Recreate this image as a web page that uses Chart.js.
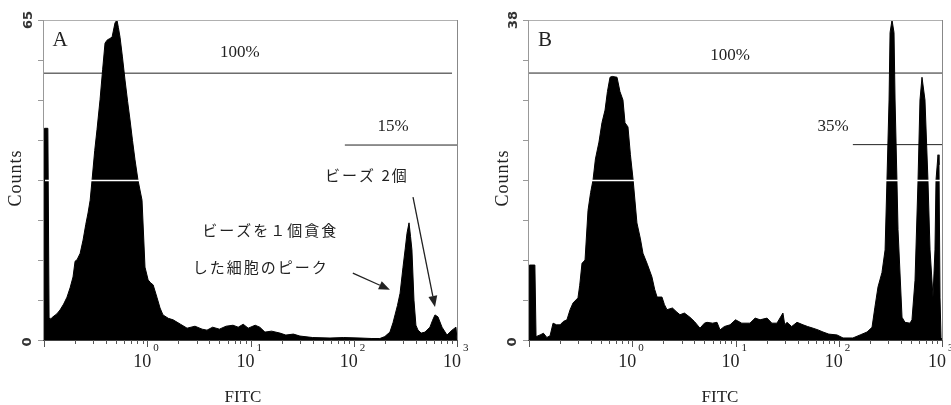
<!DOCTYPE html>
<html>
<head>
<meta charset="utf-8">
<title>FITC histograms</title>
<script src="https://cdn.jsdelivr.net/npm/chart.js@4.4.1/dist/chart.umd.min.js"></script>
<style>
  body { margin: 0; background: #fff; }
  .panel { position: absolute; top: 0; height: 405px; }
</style>
</head>
<body>
<div class="panel" style="left:0;width:476px"><canvas id="chartA" width="476" height="405"></canvas></div>
<div class="panel" style="left:476px;width:475px"><canvas id="chartB" width="475" height="405"></canvas></div>
<script>
// x tick labels (10^n)
const xTickValues = [1, 10, 100, 1000];
const xTickExponents = ['0', '1', '2', '3'];

// panel A
const aFitc = [
  0.1, 0.101, 0.109, 0.112, 0.114, 0.122, 0.133, 0.143, 0.155, 0.167,
  0.179, 0.191, 0.200, 0.209, 0.224, 0.239, 0.254, 0.267, 0.280, 0.292,
  0.310, 0.326, 0.349, 0.370, 0.390, 0.408, 0.430, 0.456, 0.487, 0.509,
  0.525, 0.545, 0.575, 0.609, 0.645, 0.681, 0.720, 0.761, 0.813, 0.890,
  0.951, 1.02, 1.08, 1.14, 1.24, 1.33, 1.42, 1.60, 1.78, 2.1,
  2.43, 2.9, 3.4, 3.79, 4.3, 5.0, 5.8, 6.77, 7.6, 8.5,
  9.5, 11.1, 12.3, 13.8, 16.0, 19.3, 22, 26, 30.1, 40,
  58.9, 80, 115, 150, 179, 200, 224, 240, 251, 265,
  281, 300, 315, 328, 343, 355, 366, 383, 400, 419,
  450, 490, 547, 580, 612, 654, 716, 800, 895, 977,
  1000
];
const aCounts = [
  0, 43, 43, 4.5, 4.1, 4.7, 5.3, 6.1, 7.3, 8.7,
  10.6, 12.8, 16.0, 16.3, 17.6, 20.3, 23.5, 25.8, 28.4, 32.5,
  38.5, 42.7, 48.8, 55.0, 60.3, 60.9, 61.2, 61.5, 64.4, 65,
  63.5, 61.5, 57.5, 52.8, 48.5, 44.7, 40.5, 36.6, 32.5, 28.4,
  14.8, 12.2, 11.6, 11.2, 8.7, 6.5, 5.1, 4.4, 4.1, 3.2,
  2.4, 2.8, 2.2, 2.0, 2.6, 2.2, 2.8, 3.0, 2.6, 3.2,
  2.4, 3.0, 2.6, 1.6, 1.8, 1.4, 1.0, 1.2, 0.8, 0.5,
  0.4, 0.5, 0.4, 0.3, 0.3, 0.7, 1.6, 3.5, 5.1, 7.0,
  9.5, 14.8, 18.5, 21.7, 23.8, 21.0, 18.3, 8.1, 3.0, 2.0,
  1.4, 1.6, 2.6, 4.0, 5.1, 4.7, 2.6, 1.0, 2.0, 2.6,
  0
];
const aYMax = 65;
const aGateLabels = ['100%', '15%'];
const aGateFrom = [0.1, 82];
const aGateTo = [895, 1000];
const aGateLevel = [54.2, 39.6];

// panel B
const bFitc = [
  0.1, 0.101, 0.114, 0.117, 0.128, 0.138, 0.149, 0.160, 0.171, 0.185,
  0.200, 0.215, 0.233, 0.250, 0.267, 0.298, 0.310, 0.326, 0.349, 0.373,
  0.395, 0.417, 0.440, 0.476, 0.509, 0.545, 0.575, 0.609, 0.640, 0.712,
  0.760, 0.813, 0.851, 0.909, 0.960, 1.02, 1.11, 1.20, 1.27, 1.40,
  1.55, 1.65, 1.74, 1.94, 2.05, 2.17, 2.45, 2.71, 2.90, 3.20,
  3.62, 4.0, 4.53, 5.0, 5.30, 6.0, 6.62, 7.08, 7.8, 8.85,
  10, 11.5, 13.8, 15.5, 17.3, 20.2, 22.5, 25.2, 28.8, 30,
  31.5, 35, 39.4, 45.1, 50, 56.4, 63, 70.4, 80, 96.2,
  110, 137, 161, 188, 210, 224, 240, 262, 281, 293,
  307, 314, 328, 343, 351, 366, 375, 410, 438, 490,
  512, 548, 586, 612, 640, 684, 731, 766, 818, 855,
  875, 915, 935, 957, 978, 1000
];
const bCounts = [
  0, 8.9, 8.9, 0.4, 0.6, 0.8, 0.3, 0.5, 2.0, 1.8,
  1.8, 2.2, 2.4, 3.6, 4.4, 5.0, 6.5, 9.1, 9.5, 15.4,
  17.5, 19.0, 21.5, 23.5, 25.8, 27.3, 29.5, 31.2, 31.3, 31.2,
  29.5, 28.5, 25.8, 25.3, 22.0, 19.0, 13.9, 12.0, 10.3, 9.0,
  7.5, 6.0, 5.1, 5.1, 4.2, 3.6, 3.8, 3.3, 3.0, 3.2,
  2.7, 2.2, 1.4, 2.0, 2.1, 2.0, 2.1, 1.2, 1.6, 1.8,
  2.4, 2.0, 2.0, 2.6, 2.4, 2.6, 2.0, 2.0, 3.2, 1.8,
  2.1, 1.6, 2.1, 1.8, 1.6, 1.4, 1.2, 0.95, 0.7, 0.6,
  0.24, 0.24, 0.6, 0.95, 1.5, 3.9, 6.3, 8.0, 10.7, 19.0,
  28.5, 36.5, 38, 36.5, 28.5, 19, 13.1, 2.7, 2.1, 2.0,
  2.4, 7.1, 19, 28.5, 31.2, 28.5, 19, 10.7, 5.1, 10.7,
  19, 22, 20.8, 5, 0.3, 0
];
const bYMax = 38;
const bGateLabels = ['100%', '35%'];
const bGateFrom = [0.1, 137];
const bGateTo = [1000, 1000];
const bGateLevel = [31.7, 23.2];

const serif = '"Liberation Serif", "DejaVu Serif", serif';
const cjk = '"Noto Sans CJK JP", "Noto Sans", sans-serif';

function rotText(ctx, text, cx, cy) {
  ctx.save();
  ctx.translate(cx, cy);
  ctx.rotate(-Math.PI / 2);
  ctx.textAlign = 'center';
  ctx.textBaseline = 'middle';
  ctx.fillText(text, 0, 0);
  ctx.restore();
}

function arrow(ctx, x1, y1, x2, y2) {
  const ang = Math.atan2(y2 - y1, x2 - x1);
  const hl = 11, hw = 4.5;
  const bx = x2 - hl * Math.cos(ang), by = y2 - hl * Math.sin(ang);
  ctx.beginPath();
  ctx.moveTo(x1, y1);
  ctx.lineTo(bx, by);
  ctx.stroke();
  ctx.beginPath();
  ctx.moveTo(x2, y2);
  ctx.lineTo(bx + hw * Math.sin(ang), by - hw * Math.cos(ang));
  ctx.lineTo(bx - hw * Math.sin(ang), by + hw * Math.cos(ang));
  ctx.closePath();
  ctx.fill();
}

// draws frame, ticks, texts on top of the datasets
function panelPlugin(p) {
  return {
    id: 'panel' + p.letter,
    afterDatasetsDraw(chart) {
      const { ctx, chartArea: a, scales: { x, y } } = chart;
      ctx.save();

      // white line at half height (as in the scan)
      const yMid = Math.round(y.getPixelForValue(p.yMax / 2)) + 0.5;
      ctx.strokeStyle = '#fff';
      ctx.lineWidth = 1.5;
      ctx.beginPath(); ctx.moveTo(a.left + 1, yMid); ctx.lineTo(a.right - 1, yMid); ctx.stroke();

      // frame
      ctx.lineWidth = 1;
      ctx.strokeStyle = '#b0b0b0';
      ctx.beginPath(); ctx.moveTo(a.left, a.top + 0.5); ctx.lineTo(a.right, a.top + 0.5); ctx.stroke();
      ctx.strokeStyle = '#888';
      ctx.beginPath(); ctx.moveTo(a.right + 0.5, a.top); ctx.lineTo(a.right + 0.5, a.bottom); ctx.stroke();
      ctx.strokeStyle = '#999';
      ctx.beginPath(); ctx.moveTo(a.left - 0.5, a.top); ctx.lineTo(a.left - 0.5, a.bottom); ctx.stroke();
      ctx.strokeStyle = '#444';
      ctx.beginPath(); ctx.moveTo(a.left - 1, a.bottom + 0.5); ctx.lineTo(a.right + 1, a.bottom + 0.5); ctx.stroke();

      // y ticks
      ctx.strokeStyle = '#999';
      for (let i = 0; i <= 8; i++) {
        const py = Math.round(y.getPixelForValue(p.yMax * i / 8)) + 0.5;
        ctx.beginPath(); ctx.moveTo(a.left - 6, py); ctx.lineTo(a.left - 1, py); ctx.stroke();
      }
      // x ticks
      ctx.strokeStyle = '#555';
      for (let k = -1; k <= 3; k++) {
        for (let m = 1; m <= 9; m++) {
          const v = m * Math.pow(10, k);
          if (v > 1000) break;
          const px = Math.round(x.getPixelForValue(v)) + 0.5;
          const len = m === 1 ? 7 : 4;
          ctx.beginPath(); ctx.moveTo(px, a.bottom); ctx.lineTo(px, a.bottom + len); ctx.stroke();
        }
      }

      // x tick labels
      ctx.fillStyle = '#222';
      ctx.textBaseline = 'alphabetic';
      xTickValues.forEach((v, i) => {
        const px = x.getPixelForValue(v);
        ctx.font = '18px ' + serif;
        ctx.textAlign = 'right';
        ctx.fillText('10', px + 4, a.bottom + 27);
        ctx.font = '11px ' + serif;
        ctx.textAlign = 'left';
        ctx.fillText(xTickExponents[i], px + 6, a.bottom + 11);
      });

      // y end labels (rotated)
      ctx.font = 'bold 13px "DejaVu Sans", sans-serif';
      ctx.fillStyle = '#333';
      rotText(ctx, String(p.yMax), a.left - 15, a.top);
      rotText(ctx, '0', a.left - 16, a.bottom + 2);

      // axis titles
      ctx.fillStyle = '#222';
      ctx.font = '17px ' + serif;
      ctx.textAlign = 'center';
      ctx.fillText('FITC', p.fitcX, 402);
      ctx.font = '18px ' + serif;
      ctx.letterSpacing = '1px';
      rotText(ctx, 'Counts', p.countsX, 178);
      ctx.letterSpacing = '0px';

      // panel letter
      ctx.font = '21px ' + serif;
      ctx.textAlign = 'center';
      ctx.textBaseline = 'middle';
      ctx.fillText(p.letter, a.left + 16, a.top + 20);

      // gate labels
      ctx.font = '17px ' + serif;
      p.gateText.forEach(g => {
        ctx.fillText(g.text, x.getPixelForValue(g.x), y.getPixelForValue(g.y));
      });

      // annotations
      ctx.font = '15px ' + cjk;
      ctx.letterSpacing = '2px';
      (p.notes || []).forEach(n => {
        ctx.fillText(n.text, x.getPixelForValue(n.x), y.getPixelForValue(n.y));
      });
      ctx.letterSpacing = '0px';
      ctx.strokeStyle = '#222';
      ctx.fillStyle = '#222';
      ctx.lineWidth = 1.3;
      (p.arrows || []).forEach(r => {
        arrow(ctx, x.getPixelForValue(r[0]), y.getPixelForValue(r[1]),
                   x.getPixelForValue(r[2]), y.getPixelForValue(r[3]));
      });
      ctx.restore();
    }
  };
}

function makeChart(id, fitc, counts, yMax, gateFrom, gateTo, gateLevel, pad, panel) {
  const hist = {
    data: fitc.map((v, i) => ({ x: v, y: counts[i] })),
    borderColor: '#000',
    backgroundColor: '#000',
    borderWidth: 1,
    fill: 'origin',
    pointRadius: 0
  };
  const gates = gateLevel.map((lv, i) => ({
    data: [{ x: gateFrom[i], y: lv }, { x: gateTo[i], y: lv }],
    borderColor: '#222',
    borderWidth: 1,
    fill: false,
    pointRadius: 0
  }));
  return new Chart(document.getElementById(id).getContext('2d'), {
    type: 'line',
    data: { datasets: [hist].concat(gates) },
    options: {
      responsive: false,
      animation: false,
      layout: { padding: pad },
      plugins: { legend: { display: false }, tooltip: { enabled: false } },
      elements: { line: { tension: 0 } },
      scales: {
        x: { type: 'logarithmic', min: 0.1, max: 1000, display: false },
        y: { type: 'linear', min: 0, max: yMax, display: false }
      }
    },
    plugins: [panelPlugin(panel)]
  });
}

makeChart('chartA', aFitc, aCounts, aYMax, aGateFrom, aGateTo, aGateLevel,
  { left: 44, top: 20, right: 19, bottom: 65 },
  {
    letter: 'A', yMax: aYMax, fitcX: 243, countsX: 16,
    gateText: [{ text: aGateLabels[0], x: 7.9, y: 58.3 }, { text: aGateLabels[1], x: 240, y: 43.3 }],
    notes: [
      { text: 'ビーズ 2個', x: 134, y: 33.5 },
      { text: 'ビーズを１個貪食', x: 15.5, y: 22.3 },
      { text: 'した細胞のピーク', x: 12.6, y: 14.8 }
    ],
    arrows: [[98, 13.6, 224, 10.2], [375, 29.0, 612, 6.7]]
  });

makeChart('chartB', bFitc, bCounts, bYMax, bGateFrom, bGateTo, bGateLevel,
  { left: 53, top: 20, right: 9, bottom: 65 },
  {
    letter: 'B', yMax: bYMax, fitcX: 720 - 476, countsX: 503 - 476,
    gateText: [{ text: bGateLabels[0], x: 8.85, y: 33.8 }, { text: bGateLabels[1], x: 88, y: 25.3 }]
  });
</script>
</body>
</html>
